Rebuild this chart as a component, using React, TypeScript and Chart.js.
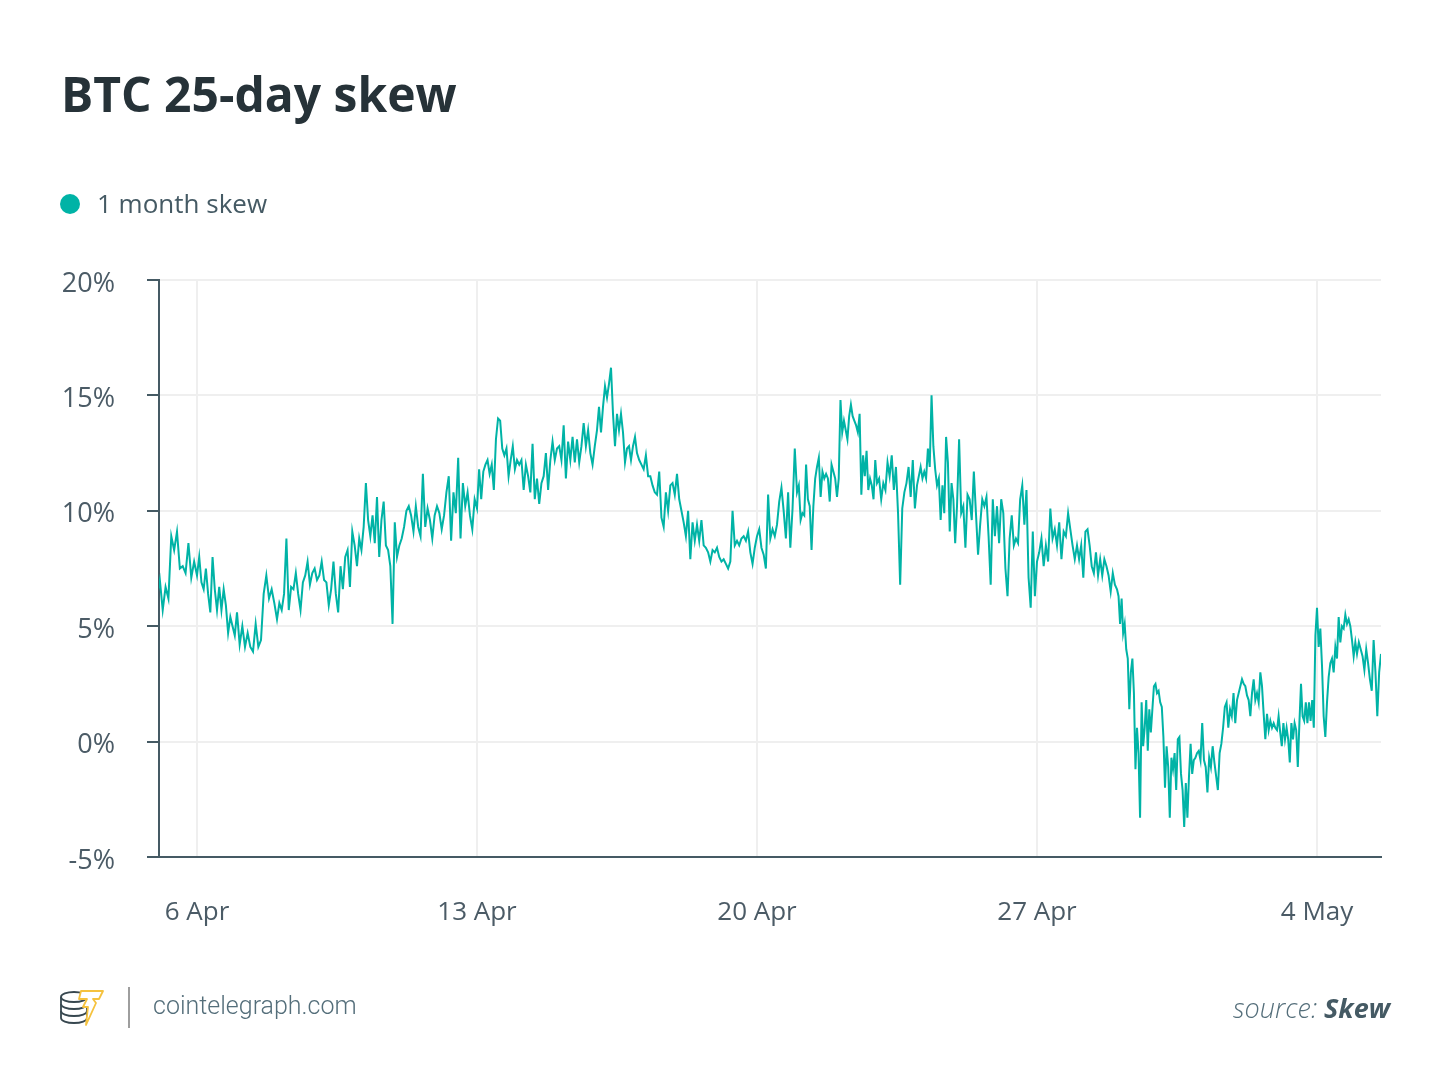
import React, { useEffect, useRef } from "react";
import { Chart, registerables } from "chart.js";

Chart.register(...registerables);

// Days are counted from 6 Apr (= 0). First row is 5 Apr, last row is 5 May (partial day).
const firstDayOffset = -1;
const lastDaySpan = 0.6;
const xMin = -0.95;
const xMax = 29.6;

const tickDays = [0, 7, 14, 21, 28];
const tickLabels = ["6 Apr", "13 Apr", "20 Apr", "27 Apr", "4 May"];
const yTicks = [-5, 0, 5, 10, 15, 20];

const seriesName = "1 month skew";

// 1 month skew (%), intraday readings grouped per day
const skewDaily: number[][] = [
  [6.3, 7.0, 5.7, 6.7, 6.2, 8.9, 8.3, 9.1, 7.5, 7.6, 7.3, 8.6, 7.1, 7.8], // 5 Apr
  [7.2, 8.0, 6.9, 6.6, 7.5, 6.4, 5.6, 8.0, 6.6, 5.7, 6.7, 5.7, 6.6, 5.9, 4.7, 5.4, 5.0, 4.6], // 6 Apr
  [5.6, 4.2, 5.0, 4.1, 4.7, 4.1, 3.9, 5.1, 4.1, 4.4, 6.4, 7.2, 6.2, 6.6, 6.0], // 7 Apr
  [5.3, 6.0, 5.7, 6.4, 8.8, 5.7, 6.7, 6.6, 7.3, 6.4, 5.7, 6.9, 7.2, 7.8, 6.8, 7.3, 7.5], // 8 Apr
  [7.0, 7.2, 7.8, 7.0, 6.9, 5.9, 6.6, 7.8, 6.4, 5.6, 7.6, 6.6, 8.0, 8.3, 6.7, 9.1, 8.5], // 9 Apr
  [7.6, 8.8, 8.3, 9.3, 11.2, 9.6, 8.9, 9.8, 8.6, 10.6, 8.0, 9.6, 10.4, 8.5, 8.3, 7.6, 5.1, 9.5], // 10 Apr
  [8.0, 8.5, 8.8, 9.3, 10.0, 10.2, 9.8, 9.1, 10.2, 9.3, 8.9, 11.6, 9.3, 10.1, 9.6, 8.8, 9.8], // 11 Apr
  [10.2, 9.9, 9.2, 9.8, 10.8, 11.5, 8.7, 10.8, 9.9, 12.3, 8.8, 11.2, 10.2, 10.8, 9.8, 9.2, 10.5], // 12 Apr
  [10.1, 11.8, 10.5, 11.7, 12.0, 12.2, 11.6, 12.0, 10.9, 13.1, 14.0, 13.9, 12.7, 12.4, 12.7, 11.5, 12.2, 12.8, 11.8], // 13 Apr
  [12.2, 12.0, 12.2, 10.9, 12.0, 11.5, 10.8, 12.9, 10.5, 11.4, 10.3, 11.2, 11.5, 12.5, 10.9, 12.2, 13.0, 12.2], // 14 Apr
  [12.7, 12.8, 12.2, 13.7, 11.4, 13.0, 12.2, 13.2, 12.1, 13.1, 12.1, 12.8, 13.8, 12.8, 13.5, 12.5, 12.0, 12.8], // 15 Apr
  [13.5, 14.5, 13.4, 14.5, 15.4, 14.9, 15.5, 16.2, 14.2, 12.8, 14.2, 13.5, 14.2, 13.4, 12.1, 12.7, 12.8, 12.2, 12.8, 13.2], // 16 Apr
  [12.5, 12.2, 12.0, 11.8, 12.4, 11.5, 11.5, 11.1, 10.8, 10.7, 11.7, 9.7, 9.3, 10.8, 10.0, 11.1, 11.2, 10.7], // 17 Apr
  [11.6, 10.5, 10.0, 9.5, 8.9, 10.0, 7.9, 9.5, 8.7, 9.4, 8.7, 9.6, 8.5, 8.4, 8.2, 7.8, 8.3, 8.2], // 18 Apr
  [8.4, 8.0, 7.8, 7.9, 7.7, 7.5, 7.8, 10.0, 8.5, 8.7, 8.5, 8.8, 8.9, 8.7, 9.1, 8.2, 7.7, 8.4], // 19 Apr
  [8.9, 9.2, 8.4, 8.1, 7.5, 10.7, 8.8, 9.2, 8.9, 9.4, 10.4, 11.0, 10.0, 8.8, 10.8, 8.4, 10.1, 12.7], // 20 Apr
  [10.8, 11.1, 9.6, 9.9, 9.8, 12.0, 10.5, 10.2, 8.3, 10.2, 11.4, 11.9, 12.3, 10.6, 11.7, 11.4, 11.6, 11.4, 10.4, 12.0, 11.7, 11.4], // 21 Apr
  [10.6, 11.4, 14.8, 13.4, 13.9, 13.5, 13.1, 14.1, 14.6, 14.1, 13.9, 13.7, 13.4, 14.2, 10.7, 12.4, 11.5, 12.6, 10.9, 11.4, 11.1, 10.5, 12.2], // 22 Apr
  [11.2, 11.4, 10.5, 11.2, 10.9, 12.1, 11.5, 12.4, 10.9, 11.9, 9.9, 6.8, 10.1, 10.8, 11.2, 11.9, 10.6, 12.2, 10.1], // 23 Apr
  [11.1, 11.5, 11.9, 11.4, 11.7, 11.4, 12.7, 11.9, 15.0, 12.8, 11.8, 11.1, 11.4, 9.6, 11.1, 9.9, 13.2, 12.1, 9.1, 11.2, 10.5, 8.6], // 24 Apr
  [10.2, 13.1, 9.9, 10.2, 8.4, 10.7, 10.5, 9.6, 11.7, 9.9, 8.1, 9.4, 10.5, 10.2, 10.6, 8.9, 6.8, 10.5, 8.9], // 25 Apr
  [10.2, 8.6, 10.5, 9.9, 7.5, 6.3, 8.8, 9.8, 8.5, 8.8, 8.6, 10.5, 11.1, 9.4, 10.9, 7.1, 5.8, 9.1, 6.3], // 26 Apr
  [7.8, 8.2, 8.8, 7.6, 8.5, 7.8, 10.1, 8.8, 9.2, 8.5, 9.5, 7.9, 9.1, 8.9, 9.9, 9.2, 8.5, 7.9], // 27 Apr
  [8.5, 7.9, 8.5, 7.1, 9.1, 9.2, 8.5, 7.6, 7.3, 8.2, 7.2, 7.9, 7.2, 7.9, 7.6, 7.2, 6.5, 7.3, 6.8], // 28 Apr
  [6.6, 6.3, 5.1, 6.2, 4.7, 5.1, 4.0, 3.6, 1.4, 3.0, 3.6, 2.1, -1.2, 0.6, -0.5, -3.3, 1.7, -0.2, 0.6, 1.8, -0.4, 1.4, 0.4, 1.4, 2.4, 2.5], // 29 Apr
  [2.1, 2.2, 1.7, 1.5, 0.2, -2.0, -0.2, -1.1, -3.3, -0.7, -1.2, -0.5, -2.1, 0.1, 0.2, -1.4, -2.1, -3.7, -1.8, -3.3, -1.5, -0.1, -1.4, -0.8, -0.7], // 30 Apr
  [-0.5, -0.4, -0.8, 0.8, -0.8, -1.1, -2.2, -0.7, -1.1, -0.2, -0.9, -1.5, -2.1, -0.5, -0.1, 0.6, 1.5, 1.7, 0.6, 1.4, 1.1, 2.1, 0.8], // 1 May
  [1.8, 2.1, 2.4, 2.7, 2.5, 2.4, 2.0, 1.8, 1.1, 2.1, 2.7, 1.8, 2.1, 1.7, 3.0, 2.4, 1.2, 0.1, 1.2, 0.5, 0.9, 0.6, 0.8, 0.6], // 2 May
  [0.5, 1.1, 0.4, -0.2, 0.8, 0.1, 0.6, 0.1, -0.9, 0.8, 0.1, 0.8, 0.5, -1.1, 0.8, 2.5, 1.1, 0.9, 1.7, 0.8, 1.7, 0.9, 1.8, 0.6, 4.6], // 3 May
  [5.8, 4.1, 4.9, 3.3, 1.1, 0.2, 1.7, 2.8, 3.4, 3.6, 3.0, 4.1, 3.6, 5.4, 4.3, 5.0, 4.9, 5.5, 5.1, 5.3, 5.0, 4.4, 3.7, 4.3], // 4 May
  [3.8, 4.3, 4.0, 3.7, 3.1, 4.0, 3.4, 2.7, 2.2, 4.4, 3.0, 1.1, 3.0, 3.8], // 5 May
];

const TEAL = "#00b3a6";
const AXIS = "#455a64";
const GRID = "#efefef";
const TICK_TEXT = "#4b5b66";

function buildPoints() {
  const pts: { x: number; y: number }[] = [];
  skewDaily.forEach((row, i) => {
    const day = firstDayOffset + i;
    const last = i === skewDaily.length - 1;
    row.forEach((v, j) => {
      const x = last ? day + (lastDaySpan * j) / (row.length - 1) : day + j / row.length;
      pts.push({ x, y: v });
    });
  });
  return pts;
}

export default function App() {
  const canvasRef = useRef<HTMLCanvasElement | null>(null);

  useEffect(() => {
    if (!canvasRef.current) return;
    const chart = new Chart(canvasRef.current, {
      type: "line",
      data: {
        datasets: [
          {
            label: seriesName,
            data: buildPoints(),
            borderColor: TEAL,
            backgroundColor: TEAL,
            borderWidth: 2,
            pointRadius: 0,
            tension: 0,
            fill: false,
          },
        ],
      },
      options: {
        animation: false,
        responsive: false,
        devicePixelRatio: 1,
        layout: { padding: { top: 280, left: 0, right: 69, bottom: 151 } },
        plugins: { legend: { display: false }, tooltip: { enabled: false } },
        scales: {
          x: {
            type: "linear",
            min: xMin,
            max: xMax,
            afterBuildTicks: (scale: any) => {
              scale.ticks = tickDays.map((v) => ({ value: v }));
            },
            afterFit: (scale: any) => {
              scale.height = 80;
            },
            ticks: {
              autoSkip: false,
              maxRotation: 0,
              padding: 40,
              color: TICK_TEXT,
              font: { family: "'Open Sans'", size: 26 },
              callback: (v: any) => {
                const idx = tickDays.indexOf(Number(v));
                return idx >= 0 ? tickLabels[idx] : "";
              },
            },
            grid: { color: GRID, lineWidth: 2, drawTicks: false },
            border: { color: AXIS, width: 2 },
          },
          y: {
            min: yTicks[0],
            max: yTicks[yTicks.length - 1],
            afterBuildTicks: (scale: any) => {
              scale.ticks = yTicks.map((v) => ({ value: v }));
            },
            afterFit: (scale: any) => {
              scale.width = 159;
            },
            ticks: {
              padding: 32,
              labelOffset: 4,
              color: TICK_TEXT,
              font: { family: "'Open Sans'", size: 27 },
              callback: (v: any) => `${v}%`,
            },
            grid: {
              color: GRID,
              lineWidth: 2,
              drawTicks: true,
              tickLength: 12,
              tickColor: AXIS,
              tickWidth: 2,
            },
            border: { color: AXIS, width: 2 },
          },
        },
      },
    });
    return () => chart.destroy();
  }, []);

  return (
    <div
      style={{
        position: "absolute",
        left: 0,
        top: 0,
        width: 1450,
        height: 1088,
        background: "#ffffff",
        overflow: "hidden",
      }}
    >
      <canvas
        ref={canvasRef}
        width={1450}
        height={1088}
        style={{ position: "absolute", left: 0, top: 0, width: 1450, height: 1088 }}
      />
      <svg
        width={1450}
        height={1088}
        style={{ position: "absolute", left: 0, top: 0, pointerEvents: "none" }}
      >
        <text x={61} y={112} fontFamily="'Open Sans'" fontWeight={700} fontSize={48} fill="#263238">
          BTC 25-day skew
        </text>
        <circle cx={70} cy={204} r={10} fill={TEAL} />
        <text x={97} y={213} fontFamily="'Open Sans'" fontSize={26} fill={AXIS}>
          {seriesName}
        </text>

        {/* footer logo */}
        <g fill="#ffffff" stroke="#37474f" strokeWidth={1.8}>
          <path d="M61,997 V1018 A13,5 0 0 0 87,1018 V997" />
          <path d="M61,1004 A13,5 0 0 0 87,1004" fill="none" />
          <path d="M61,1011 A13,5 0 0 0 87,1011" fill="none" />
          <ellipse cx={74} cy={997} rx={13} ry={5} />
        </g>
        <polygon
          points="81,991 103,991 99,999 93,999 96,1003 86,1025 88,1007 83,1007 87,999 79,999"
          fill="#ffffff"
          stroke="#f5c23e"
          strokeWidth={1.8}
          strokeLinejoin="round"
        />
        <line x1={129} y1={987} x2={129} y2={1028} stroke="#9e9e9e" strokeWidth={2} />
        <text x={153} y={1014} fontFamily="Roboto" fontWeight={300} fontSize={25} fill="#546e7a">
          cointelegraph.com
        </text>
        <text
          x={1390}
          y={1018}
          textAnchor="end"
          fontFamily="'Open Sans'"
          fontStyle="italic"
          fontSize={27}
          fill="#546e7a"
        >
          <tspan fontWeight={300}>source: </tspan>
          <tspan fontWeight={700} fill={AXIS}>Skew</tspan>
        </text>
      </svg>
    </div>
  );
}
